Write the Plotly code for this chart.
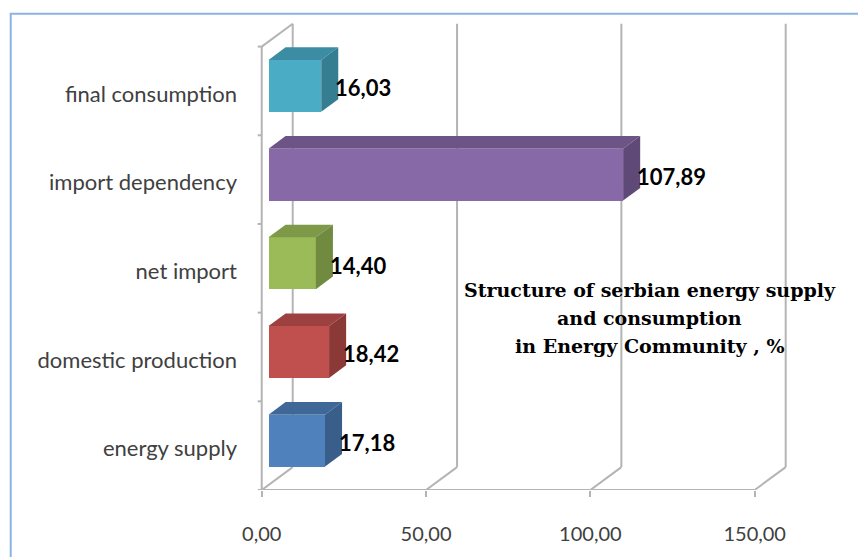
import plotly.graph_objects as go

# ---- data ----
categories = ["energy supply", "domestic production", "net import", "import dependency", "final consumption"]
values = [17.18, 18.42, 14.40, 107.89, 16.03]
value_labels = ["17,18", "18,42", "14,40", "107,89", "16,03"]
tick_vals = [0, 50, 100, 150]
tick_text = ["0,00", "50,00", "100,00", "150,00"]
title_lines = ["Structure of serbian energy supply", "and consumption", "in Energy Community , %"]

front_colors = ["#4F81BD", "#C0504D", "#9BBB59", "#8669A6", "#4BACC6"]
top_colors = ["#3F6898", "#9C413F", "#7E9A48", "#6C5586", "#3C8DA3"]
side_colors = ["#395E8A", "#8B3937", "#708A40", "#5F4A77", "#357D91"]

# ---- geometry (pixels) ----
W, H = 858, 557
S = 493 / 150.0          # px per unit on x
CAT = 89.0               # px per category
X0PX, Y0PX = 262, 492    # front axis origin
XMIN, XMAX = -6, 172
YMIN, YMAX = -0.5, 4.8
l = X0PX + XMIN * S
r = W - (X0PX + XMAX * S)
t = Y0PX - (YMAX - YMIN) * CAT
b = H - Y0PX
pw = W - l - r
ph = H - t - b

DX = 31 / S              # depth offset in x units
DY = 23 / CAT            # depth offset in category units
F0, F1 = 0.22, 0.77      # bar depth fractions
HH = 0.585 / 2           # half bar height

GRID = "#B4B4B4"

fig = go.Figure()

# side and top faces
for i, v in enumerate(values):
    yc = i + F0 * DY
    x0 = F0 * DX
    x1 = x0 + v
    dx = (F1 - F0) * DX
    dy = (F1 - F0) * DY
    top = yc + HH
    bot = yc - HH
    fig.add_trace(go.Scatter(
        x=[x0, x1, x1 + dx, x0 + dx, x0], y=[top, top, top + dy, top + dy, top],
        fill="toself", fillcolor=top_colors[i], mode="lines", line=dict(width=0),
        hoverinfo="skip", showlegend=False))
    fig.add_trace(go.Scatter(
        x=[x1, x1 + dx, x1 + dx, x1, x1], y=[bot, bot + dy, top + dy, top, bot],
        fill="toself", fillcolor=side_colors[i], mode="lines", line=dict(width=0),
        hoverinfo="skip", showlegend=False))

# front faces
fig.add_trace(go.Bar(
    orientation="h",
    y=[i + F0 * DY for i in range(len(values))],
    x=values,
    base=[F0 * DX] * len(values),
    width=2 * HH,
    marker=dict(color=front_colors, line=dict(width=0)),
    showlegend=False, hoverinfo="skip"))

# walls / gridlines as shapes below traces
shapes = []
ybot, ytop = -0.5, len(categories) - 0.5
for tv in tick_vals:
    shapes.append(dict(type="line", xref="x", yref="y", x0=tv + DX, x1=tv + DX,
                       y0=ybot + DY, y1=ytop + DY, line=dict(color=GRID, width=2), layer="below"))
    shapes.append(dict(type="line", xref="x", yref="y", x0=tv, x1=tv + DX,
                       y0=ybot, y1=ybot + DY, line=dict(color=GRID, width=2), layer="below"))
shapes.append(dict(type="line", xref="x", yref="y", x0=0, x1=tick_vals[-1],
                   y0=ybot, y1=ybot, line=dict(color=GRID, width=2), layer="below"))
shapes.append(dict(type="line", xref="x", yref="y", x0=0, x1=0,
                   y0=ybot, y1=ytop, line=dict(color=GRID, width=2), layer="below"))
shapes.append(dict(type="line", xref="x", yref="y", x0=0, x1=DX,
                   y0=ytop, y1=ytop + DY, line=dict(color=GRID, width=2), layer="below"))
for k in range(len(categories) + 1):
    yb = k - 0.5
    shapes.append(dict(type="line", xref="x", yref="y", x0=-4 / S, x1=0,
                       y0=yb, y1=yb, line=dict(color=GRID, width=2), layer="below"))
shapes.append(dict(type="rect", xref="paper", yref="paper",
                   x0=(11 - l) / pw, x1=(880 - l) / pw,
                   y0=1 - (580 - t) / ph, y1=1 - (14 - t) / ph,
                   line=dict(color="#8DB3E2", width=2), fillcolor="rgba(0,0,0,0)", layer="below"))

annotations = []
for i, v in enumerate(values):
    annotations.append(dict(
        x=v + F1 * DX, y=i + F0 * DY, xref="x", yref="y", text=value_labels[i],
        showarrow=False, xanchor="left", yanchor="middle", xshift=-5, yshift=-2,
        font=dict(family="Lato", size=22, color="#000000", weight="bold")))
for j, line in enumerate(title_lines):
    annotations.append(dict(
        x=(650 - l) / pw, y=1 - (291 + 28 * j - t) / ph, xref="paper", yref="paper",
        text=line, showarrow=False, xanchor="center", yanchor="middle",
        font=dict(family="DejaVu Serif", size=19, color="#000000", weight="bold")))

fig.update_layout(
    width=W, height=H,
    margin=dict(l=l, r=r, t=t, b=b, pad=0),
    paper_bgcolor="white", plot_bgcolor="white",
    shapes=shapes, annotations=annotations,
    xaxis=dict(range=[XMIN, XMAX], tickvals=tick_vals, ticktext=tick_text,
               showgrid=False, zeroline=False, showline=False,
               ticks="outside", ticklen=6, tickwidth=2, tickcolor=GRID,
               ticklabelstandoff=20,
               tickfont=dict(family="Lato", size=20, color="#404040")),
    yaxis=dict(range=[YMIN, YMAX], tickvals=[i - 0.035 for i in range(len(categories))],
               ticktext=categories,
               showgrid=False, zeroline=False, showline=False, ticks="",
               ticklabelstandoff=4,
               tickfont=dict(family="Lato", size=22, color="#404040")),
    bargap=0,
)

fig.write_html("out.html")
